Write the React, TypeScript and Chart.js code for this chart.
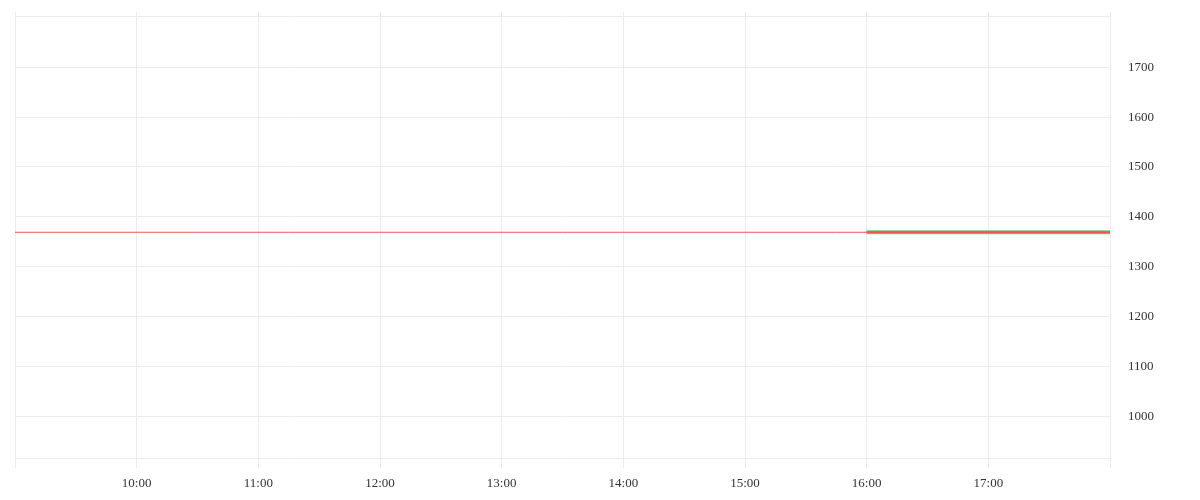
import React, { useEffect, useRef } from "react";
import { Chart, registerables } from "chart.js";

Chart.register(...registerables);

// Hours of the day (x) and price values (y)
const baseTimes = [9, 18];
const baseValues = [1369, 1369];
const recentTimes = [16, 18];
const recentValues = [1369, 1369];

const yMin = 896;
const yMax = 1811;
const yTickValues = [915, 1000, 1100, 1200, 1300, 1400, 1500, 1600, 1700, 1801];
const xMin = 9;
const xMax = 18;

const toPoints = (xs: number[], ys: number[]) => xs.map((x, i) => ({ x, y: ys[i] }));

export default function App() {
  const ref = useRef<HTMLCanvasElement | null>(null);

  useEffect(() => {
    if (!ref.current) return;
    const font = { family: "'Times New Roman', 'Liberation Serif', serif", size: 13 };
    const chart = new Chart(ref.current, {
      type: "line",
      data: {
        datasets: [
          {
            data: toPoints(recentTimes, recentValues),
            borderColor: "rgb(242, 82, 90)",
            borderWidth: 2,
            pointRadius: 0,
          },
          {
            data: toPoints(baseTimes, baseValues),
            borderColor: "rgb(242, 82, 90)",
            borderWidth: 1,
            pointRadius: 0,
          },
          {
            data: toPoints(recentTimes, recentValues),
            borderColor: "rgb(120, 200, 120)",
            borderWidth: 4,
            pointRadius: 0,
          },
        ],
      },
      options: {
        animation: false,
        responsive: true,
        maintainAspectRatio: false,
        layout: { padding: { left: 15, top: 12, right: 0, bottom: 0 } },
        plugins: { legend: { display: false }, tooltip: { enabled: false } },
        scales: {
          x: {
            type: "linear",
            min: xMin,
            max: xMax,
            border: { display: false },
            grid: { color: "#ececec", drawTicks: false },
            ticks: {
              stepSize: 1,
              padding: 8,
              color: "#333",
              font,
              maxRotation: 0,
              autoSkip: false,
              callback: (v: any) => {
                const n = Number(v);
                if (n <= xMin || n >= xMax) return "";
                return `${n}:00`;
              },
            },
            afterFit: (s: any) => {
              s.height = 32;
              s.paddingLeft = 0;
              s.paddingRight = 0;
            },
          },
          y: {
            position: "right",
            min: yMin,
            max: yMax,
            border: { display: false },
            grid: { color: "#ececec", drawTicks: false },
            afterBuildTicks: (s: any) => {
              s.ticks = yTickValues.map((value) => ({ value }));
            },
            ticks: {
              padding: 18,
              color: "#333",
              font,
              callback: (v: any) => {
                const n = Number(v);
                return n % 100 === 0 ? String(n) : "";
              },
            },
            afterFit: (s: any) => {
              s.width = 90;
              s.paddingTop = 0;
              s.paddingBottom = 0;
            },
          },
        },
      },
    });
    return () => chart.destroy();
  }, []);

  return (
    <div style={{ position: "absolute", left: 0, top: 0, width: 1200, height: 500 }}>
      <canvas ref={ref} />
    </div>
  );
}
